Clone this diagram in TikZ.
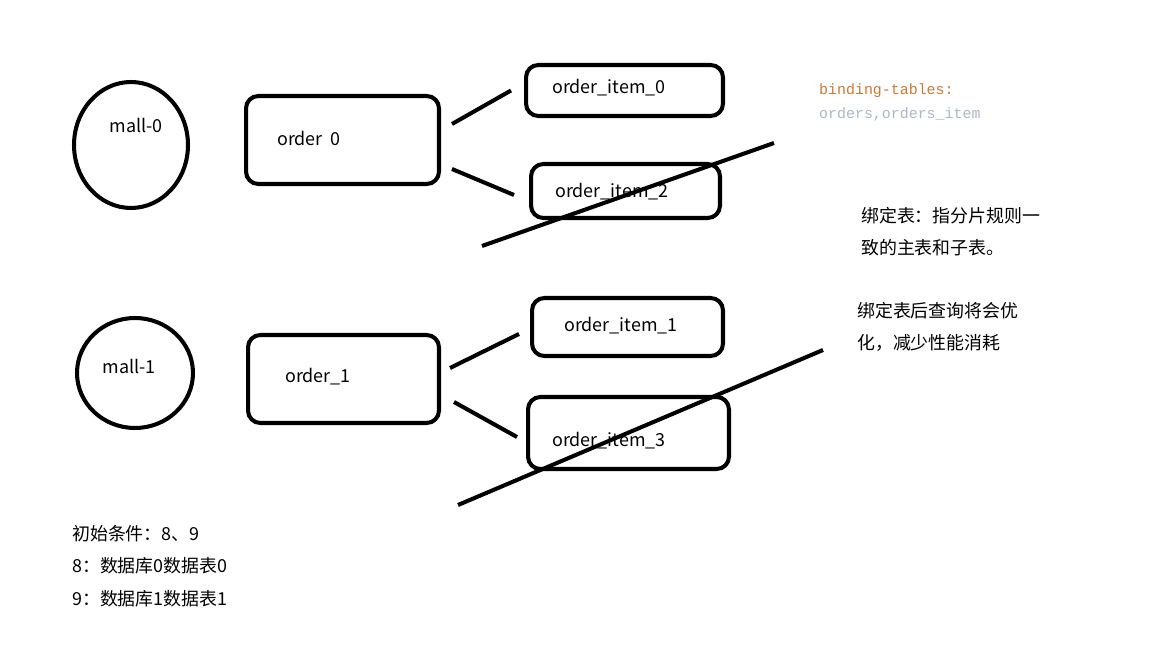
\documentclass[tikz,border=0pt]{standalone}
\usepackage{fontspec}
\setmainfont{Noto Sans CJK SC}
\setmonofont{Liberation Mono}
\usetikzlibrary{positioning}
\usetikzlibrary{calc}
\usetikzlibrary{shapes.geometric}
\definecolor{keyorange}{RGB}{204,120,50}
\definecolor{valgray}{RGB}{169,183,198}

\tikzset{
    dbnode/.style={draw, ellipse, line width=2.3pt, inner sep=0pt},
    tabbox/.style={draw, rectangle, rounded corners=7pt, line width=2.3pt, inner sep=0pt},
    link/.style={line width=2.3pt},
    strike/.style={line width=2.3pt},
    lbl/.style={font=\fontsize{10.2}{12}\selectfont},
    note/.style={anchor=west, align=left, font=\fontsize{10.2}{18.6}\selectfont}
}

\begin{document}
\begin{tikzpicture}[x=0.02cm, y=-0.02cm]
    \useasboundingbox (0,0) rectangle (1152,648);

    \node[dbnode, minimum width=2.28cm, minimum height=2.52cm] (mall0) at (131,145) {};
    \node[dbnode, minimum width=2.32cm, minimum height=2.2cm] (mall1) at (135,373) {};
    \node[lbl] (mall0txt) at (136,125) {mall-0};
    \node[lbl] (mall1txt) at (129,366) {mall-1};

    \node[tabbox, minimum width=3.86cm, minimum height=1.76cm] (order0) at (342.5,140) {};
    \node[tabbox, minimum width=3.82cm, minimum height=1.76cm] (order1) at (343.5,379) {};
    \node[lbl] (order0txt) at (309,138) {order\ \ 0};
    \node[lbl] (order1txt) at (318,377) {order\_1};

    \node[tabbox, minimum width=3.94cm, minimum height=1.02cm] (item0) at (624.5,90.5) {};
    \node[tabbox, minimum width=3.78cm, minimum height=1.08cm] (item2) at (625.5,191) {};
    \node[tabbox, minimum width=3.82cm, minimum height=1.16cm] (item1) at (627.5,327) {};
    \node[tabbox, minimum width=4.02cm, minimum height=1.44cm] (item3) at (628.5,433) {};
    \node[lbl] (item0txt) at (609,88) {order\_item\_0};
    \node[lbl] (item2txt) at (612,192) {order\_item\_2};
    \node[lbl] (item1txt) at (621,326) {order\_item\_1};
    \node[lbl] (item3txt) at (609,441) {order\_item\_3};

    \draw[link] ($(order0.east)+(11,-16)$) -- ($(item0.west)+(-13,0)$);
    \draw[link] ($(order0.east)+(11,29)$) -- ($(item2.west)+(-15,4)$);
    \draw[link] ($(order1.east)+(9,-11)$) -- ($(item1.west)+(-11,7)$);
    \draw[link] ($(order1.east)+(13,23)$) -- ($(item3.west)+(-9,4)$);

    \coordinate (cutAa) at (482,246);
    \coordinate (cutAb) at (774,143);
    \coordinate (cutBa) at (458,505);
    \coordinate (cutBb) at (823,350);
    \draw[strike] (cutAa) -- (cutAb);
    \draw[strike] (cutBa) -- (cutBb);

    \node[anchor=west, keyorange, font=\ttfamily\fontsize{8.5}{10}\selectfont] (bindkey) at (813,91) {binding-tables:};
    \node[anchor=west, valgray, font=\ttfamily\fontsize{8.5}{10}\selectfont] (bindval) at (813,114) {orders,orders\_item};

    \node[note] (note1) at (855,231.5) {绑定表：指分片规则一\\致的主表和子表。};
    \node[note] (note2) at (851,327) {绑定表后查询将会优\\化，减少性能消耗};
    \node[note] (cond) at (66,566) {初始条件：8、9\\8：数据库0数据表0\\9：数据库1数据表1};
\end{tikzpicture}
\end{document}
